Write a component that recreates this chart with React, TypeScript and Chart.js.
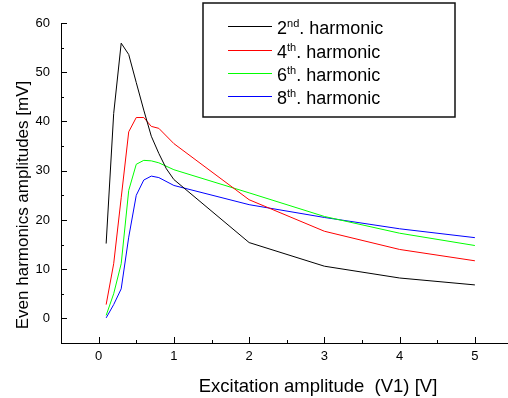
import React, { useEffect, useRef } from "react";
import { Chart, registerables } from "chart.js";

Chart.register(...registerables);

const X_2ND = [0.1, 0.2, 0.3, 0.4, 0.5, 0.6, 0.7, 0.8, 0.9, 1.0, 2, 3, 4, 5];
const Y_2ND = [15.2, 41.6, 55.9, 53.6, 47.9, 42.3, 37.0, 33.5, 30.4, 28.2, 15.4, 10.6, 8.2, 6.8];

const X_4TH = [0.1, 0.2, 0.3, 0.4, 0.5, 0.6, 0.7, 0.8, 1.0, 2, 3, 4, 5];
const Y_4TH = [2.8, 11.1, 24.5, 37.9, 40.8, 40.8, 39.0, 38.6, 35.5, 24.1, 17.7, 14.0, 11.7];

const X_6TH = [0.1, 0.2, 0.3, 0.4, 0.5, 0.6, 0.7, 0.8, 1.0, 2, 3, 4, 5];
const Y_6TH = [0.6, 5.0, 11.1, 26.0, 31.3, 32.1, 32.0, 31.6, 30.2, 25.5, 20.7, 17.3, 14.8];

const X_8TH = [0.1, 0.2, 0.3, 0.4, 0.5, 0.6, 0.7, 0.8, 1.0, 2, 3, 4, 5];
const Y_8TH = [0.1, 2.8, 6.0, 16.5, 25.0, 28.1, 28.9, 28.6, 27.0, 23.1, 20.5, 18.2, 16.4];

const ORDINALS = ["2", "4", "6", "8"];
const SUFFIXES = ["nd", "th", "th", "th"];
const COLORS = ["#000000", "#ff0000", "#00ff00", "#0000ff"];

const X_TITLE = "Excitation amplitude  (V1) [V]";
const Y_TITLE = "Even harmonics amplitudes [mV]";

const FONT = "'Liberation Sans', Arial, sans-serif";

const pts = (xs: number[], ys: number[]) => xs.map((x, i) => ({ x, y: ys[i] }));

export default function App() {
  const ref = useRef<HTMLCanvasElement | null>(null);

  useEffect(() => {
    document.body.style.margin = "0";
    document.body.style.overflow = "hidden";
    const canvas = ref.current;
    if (!canvas) return;

    const series = [pts(X_2ND, Y_2ND), pts(X_4TH, Y_4TH), pts(X_6TH, Y_6TH), pts(X_8TH, Y_8TH)];

    const decor = {
      id: "decor",
      afterDraw(chart: any) {
        const ctx = chart.ctx as CanvasRenderingContext2D;
        const xs = chart.scales.x;
        const ys = chart.scales.y;
        const area = chart.chartArea;
        ctx.save();
        ctx.strokeStyle = "#000";
        ctx.lineWidth = 1;
        xs.ticks.forEach((t: any) => {
          const v = t.value;
          if (v <= -0.5 + 1e-9) return;
          const px = Math.round(xs.getPixelForValue(v)) + 0.5;
          const major = Math.abs(v - Math.round(v)) < 1e-9;
          const len = major ? 6 : 3;
          ctx.beginPath();
          ctx.moveTo(px, area.bottom);
          ctx.lineTo(px, area.bottom - len);
          ctx.stroke();
        });
        ys.ticks.forEach((t: any) => {
          const v = t.value;
          if (v <= -5 + 1e-9) return;
          const py = Math.round(ys.getPixelForValue(v)) + 0.5;
          const major = Math.abs(v / 10 - Math.round(v / 10)) < 1e-9;
          const len = major ? 6 : 3;
          ctx.beginPath();
          ctx.moveTo(area.left, py);
          ctx.lineTo(area.left + len, py);
          ctx.stroke();
        });

        ctx.fillStyle = "#000";
        ctx.textAlign = "center";
        ctx.textBaseline = "alphabetic";
        ctx.font = `18.5px ${FONT}`;
        ctx.fillText(X_TITLE, 318, 392);
        ctx.font = `17px ${FONT}`;
        ctx.save();
        ctx.translate(28, 205);
        ctx.rotate(-Math.PI / 2);
        ctx.fillText(Y_TITLE, 0, 0);
        ctx.restore();

        const bx = 203, by = 3, bw = 252, bh = 114;
        ctx.fillStyle = "#fff";
        ctx.fillRect(bx, by, bw, bh);
        ctx.strokeStyle = "#111";
        ctx.lineWidth = 1.5;
        ctx.strokeRect(bx, by, bw, bh);
        const rowY = [26, 49.5, 72.5, 96];
        ORDINALS.forEach((n, i) => {
          const y = rowY[i];
          ctx.strokeStyle = COLORS[i];
          ctx.lineWidth = 1;
          ctx.beginPath();
          ctx.moveTo(228, Math.round(y) + 0.5);
          ctx.lineTo(272, Math.round(y) + 0.5);
          ctx.stroke();
          ctx.fillStyle = "#000";
          ctx.textAlign = "left";
          ctx.textBaseline = "alphabetic";
          const base = y + 8;
          let x = 277;
          ctx.font = `18px ${FONT}`;
          ctx.fillText(n, x, base);
          x += ctx.measureText(n).width;
          ctx.font = `11px ${FONT}`;
          ctx.fillText(SUFFIXES[i], x, base - 7);
          x += ctx.measureText(SUFFIXES[i]).width;
          ctx.font = `18px ${FONT}`;
          ctx.fillText(". harmonic", x, base);
        });
        ctx.restore();
      },
    };

    const chart = new Chart(canvas, {
      type: "line",
      data: {
        datasets: series.map((data, i) => ({
          label: `${ORDINALS[i]}${SUFFIXES[i]}. harmonic`,
          data,
          borderColor: COLORS[i],
          backgroundColor: COLORS[i],
          borderWidth: 1,
          pointRadius: 0,
          tension: 0,
          fill: false,
        })),
      },
      options: {
        animation: false,
        responsive: false,
        devicePixelRatio: 1,
        layout: { padding: { top: 23, right: 0, left: 0, bottom: 0 } },
        plugins: { legend: { display: false }, tooltip: { enabled: false } },
        scales: {
          x: {
            type: "linear",
            min: -0.5,
            max: 5.44,
            afterFit: (s: any) => {
              s.height = 55;
            },
            border: { display: true, color: "#000", width: 1 },
            grid: { drawOnChartArea: false, drawTicks: false },
            ticks: {
              stepSize: 0.5,
              includeBounds: false,
              autoSkip: false,
              maxRotation: 0,
              padding: 6,
              color: "#000",
              font: { family: FONT, size: 13 },
              callback: (v: any) => {
                const n = Number(v);
                return Math.abs(n - Math.round(n)) < 1e-9 ? String(Math.round(n)) : "";
              },
            },
          },
          y: {
            type: "linear",
            min: -5,
            max: 60,
            afterFit: (s: any) => {
              s.width = 61;
            },
            border: { display: true, color: "#000", width: 1 },
            grid: { drawOnChartArea: false, drawTicks: false },
            ticks: {
              stepSize: 5,
              includeBounds: false,
              autoSkip: false,
              padding: 11,
              color: "#000",
              font: { family: FONT, size: 13 },
              callback: (v: any) => {
                const n = Number(v);
                return Math.abs(n / 10 - Math.round(n / 10)) < 1e-9 ? String(Math.round(n)) : "";
              },
            },
          },
        },
      },
      plugins: [decor],
    });

    return () => chart.destroy();
  }, []);

  return (
    <div style={{ width: 508, height: 398, overflow: "hidden", background: "#fff" }}>
      <canvas ref={ref} width={508} height={398} style={{ display: "block" }} />
    </div>
  );
}
